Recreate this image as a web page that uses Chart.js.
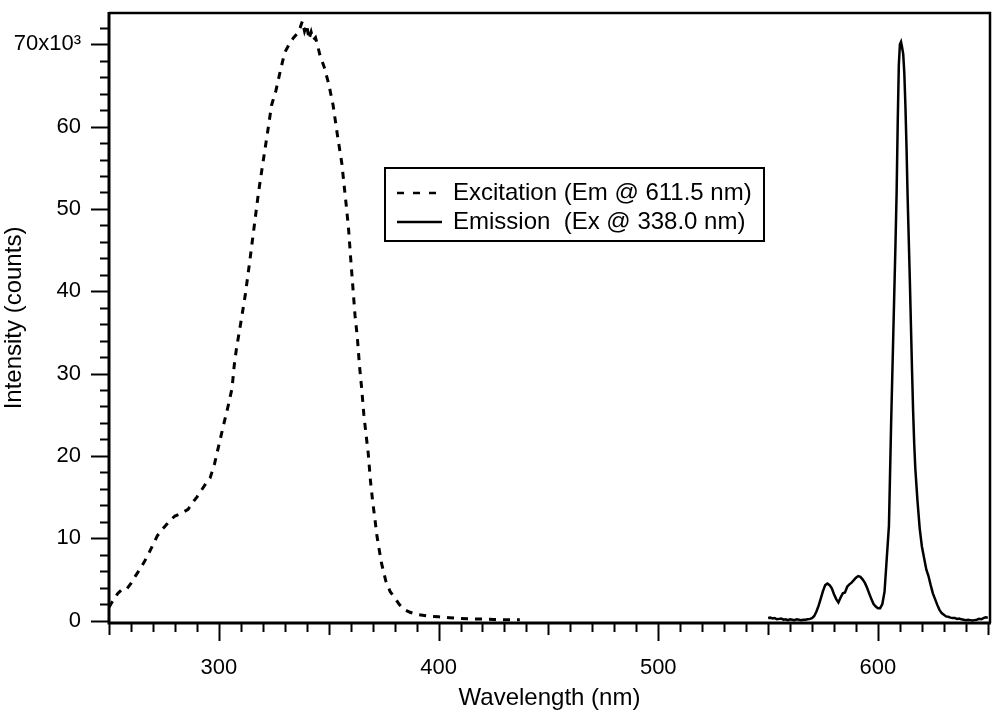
<!DOCTYPE html>
<html>
<head>
<meta charset="utf-8">
<title>Excitation / Emission spectra</title>
<script src="https://cdn.jsdelivr.net/npm/chart.js@4.4.1/dist/chart.umd.min.js"></script>
<style>
  html, body { margin: 0; padding: 0; background: #fff; }
  #wrap { width: 1000px; height: 720px; position: relative; }
</style>
</head>
<body>
<div id="wrap"><canvas id="chart"></canvas></div>
<script>
// Excitation scan (Em @ 611.5 nm)
const excitationNm = [250, 252, 254, 256, 258, 260, 262, 264, 266, 268, 270, 272, 274, 276, 278,
  280, 282, 284, 286, 288, 290, 292, 294, 296, 298, 300, 302, 304, 306, 307, 308, 310, 312, 314,
  316, 318, 320, 322, 324, 326, 328, 330, 332, 334, 336, 337, 338, 339, 340, 341, 342, 343, 344,
  345, 346, 348, 350, 352, 354, 356, 357, 358, 359, 360, 361, 362, 363, 364, 365, 366, 367, 368,
  369, 370, 371, 372, 373, 374, 375, 376, 378, 380, 382, 384, 387, 390, 395, 400, 405, 410, 415,
  420, 425, 430, 437];
const excitationCounts = [1600, 2500, 3300, 3800, 3800, 4500, 5400, 6200, 7100, 8100, 9200, 10300,
  11000, 11600, 12200, 12700, 12900, 13200, 13500, 14300, 15000, 15800, 16600, 17300, 19000,
  21300, 23600, 25800, 28200, 31000, 33000, 36200, 39500, 43500, 47700, 51900, 55500, 59000,
  62600, 64400, 66800, 69000, 70000, 70800, 71400, 72000, 72800, 71600, 72400, 70600, 71500,
  70500, 70800, 69800, 68700, 67200, 65200, 62600, 58900, 55500, 52900, 50400, 47700, 44000,
  40500, 37000, 34500, 31000, 28200, 25000, 22600, 20300, 17000, 14500, 12400, 10200, 8600,
  7000, 5900, 4800, 3500, 2800, 2000, 1400, 1000, 750, 550, 450, 350, 250, 200, 170, 130, 100, 100];

// Emission scan (Ex @ 338.0 nm)
const emissionNm = [550, 551, 552, 553, 554, 555, 556, 557, 558, 559, 560, 561, 562, 563, 564,
  565, 566, 567, 568, 569, 570, 571, 572, 573, 574, 575, 576, 577, 578, 579, 580, 581, 582, 583,
  584, 585, 586, 587, 588, 589, 590, 591, 592, 593, 594, 595, 596, 597, 598, 599, 600, 601, 602,
  603, 604, 605, 606, 607, 608, 608.5, 609, 609.5, 610, 610.5, 611, 611.5, 612, 612.5, 613,
  613.5, 614, 614.5, 615, 615.5, 616, 616.5, 617, 618, 619, 620, 621, 622, 623, 624, 625, 626,
  627, 628, 629, 630, 631, 632, 633, 634, 635, 636, 637, 638, 639, 640, 641, 642, 643, 644, 645,
  646, 647, 648, 649, 650];
const emissionCounts = [300, 350, 250, 300, 150, 200, 250, 100, 150, 50, 150, 100, 50, 150, 100,
  50, 100, 100, 150, 200, 300, 550, 1100, 1800, 2700, 3600, 4300, 4500, 4300, 3900, 3200, 2600,
  2200, 2800, 3300, 3400, 4100, 4400, 4600, 4900, 5200, 5400, 5300, 5000, 4600, 4000, 3300, 2600,
  2000, 1700, 1500, 1500, 2000, 3500, 7500, 11500, 24000, 35000, 46000, 52000, 60500, 67500,
  70000, 70300, 69600, 68800, 66500, 62500, 57500, 51500, 46500, 41500, 36000, 30500, 25500,
  21500, 18500, 14500, 11200, 9000, 7600, 6200, 5400, 4300, 3300, 2600, 1900, 1300, 900, 700,
  500, 450, 350, 300, 300, 200, 250, 150, 100, 50, 100, 50, 0, 50, 100, 200, 150, 300, 400, 350];

const xMajorTicks = [300, 400, 500, 600];
const yMajorTicks = [0, 10000, 20000, 30000, 40000, 50000, 60000, 70000];
const yTopLabel = '70x10\u00B3';

const FONT = "'Liberation Sans', Arial, sans-serif";

function toPoints(xs, ys) {
  return xs.map((x, i) => ({ x: x, y: ys[i] }));
}

// fixed plot box: no extra room for edge labels
function fixBox(scale, w, h) {
  if (w) scale.width = w;
  if (h) scale.height = h;
  scale.paddingTop = 0;
  scale.paddingBottom = 0;
  scale.paddingLeft = 0;
  scale.paddingRight = 0;
}

// axes frame, outward tick marks and the boxed legend
const framePlugin = {
  id: 'framePlugin',
  afterDraw(chart) {
    const { ctx, chartArea: a, scales: { x, y } } = chart;
    ctx.save();
    ctx.strokeStyle = '#000';
    ctx.lineCap = 'butt';

    ctx.lineWidth = 2;
    for (let v = 250; v <= 650; v += 10) {
      const px = Math.round(x.getPixelForValue(v)) + 0.5;
      const len = xMajorTicks.includes(v) ? 18 : (v % 50 === 0 ? 12 : 9);
      ctx.beginPath();
      ctx.moveTo(px, a.bottom);
      ctx.lineTo(px, a.bottom + len);
      ctx.stroke();
    }
    for (let v = 0; v <= 72000; v += 2000) {
      const py = Math.round(y.getPixelForValue(v)) + 0.5;
      const len = yMajorTicks.includes(v) ? 18 : 9;
      ctx.beginPath();
      ctx.moveTo(a.left, py);
      ctx.lineTo(a.left - len, py);
      ctx.stroke();
    }

    // top + right frame
    ctx.lineWidth = 2.5;
    ctx.beginPath();
    ctx.moveTo(a.left, a.top);
    ctx.lineTo(a.right, a.top);
    ctx.lineTo(a.right, a.bottom);
    ctx.stroke();
    // left + bottom axis lines
    ctx.lineWidth = 3;
    ctx.beginPath();
    ctx.moveTo(a.left, a.top - 1);
    ctx.lineTo(a.left, a.bottom);
    ctx.lineTo(a.right + 1, a.bottom);
    ctx.stroke();

    // legend
    const lx = 385, ly = 168, lw = 379, lh = 73;
    ctx.lineWidth = 2;
    ctx.strokeRect(lx, ly, lw, lh);
    ctx.font = '24px ' + FONT;
    ctx.fillStyle = '#000';
    ctx.textBaseline = 'middle';
    chart.data.datasets.forEach((ds, i) => {
      const rowY = ly + 25 + i * 29;
      ctx.save();
      ctx.lineWidth = 2.5;
      ctx.setLineDash(ds.borderDash ? [7, 9] : []);
      ctx.beginPath();
      ctx.moveTo(lx + 12, rowY);
      ctx.lineTo(lx + 57, rowY);
      ctx.stroke();
      ctx.restore();
      ctx.fillText(ds.label, lx + 68, rowY);
    });
    ctx.restore();
  }
};

new Chart(document.getElementById('chart'), {
  type: 'line',
  data: {
    datasets: [
      {
        label: 'Excitation (Em @ 611.5 nm)',
        data: toPoints(excitationNm, excitationCounts),
        borderColor: '#000',
        borderWidth: 3,
        borderDash: [7, 7],
        pointRadius: 0,
        tension: 0
      },
      {
        label: 'Emission  (Ex @ 338.0 nm)',
        data: toPoints(emissionNm, emissionCounts),
        borderColor: '#000',
        borderWidth: 2.5,
        pointRadius: 0,
        tension: 0
      }
    ]
  },
  options: {
    responsive: true,
    maintainAspectRatio: false,
    animation: false,
    events: [],
    layout: { padding: { top: 13, right: 10, left: 0, bottom: 0 } },
    plugins: { legend: { display: false }, tooltip: { enabled: false } },
    scales: {
      x: {
        type: 'linear',
        min: 250,
        max: 651,
        grid: { display: false, drawTicks: false },
        border: { display: false },
        afterBuildTicks: (scale) => {
          scale.ticks = xMajorTicks.map((v) => ({ value: v }));
        },
        ticks: {
          autoSkip: false,
          maxRotation: 0,
          padding: 32,
          color: '#000',
          font: { family: FONT, size: 22 },
          callback: (v) => String(v)
        },
        title: {
          display: true,
          text: 'Wavelength (nm)',
          color: '#000',
          font: { family: FONT, size: 24 },
          padding: { top: 0, bottom: 7 }
        },
        afterFit: (scale) => fixBox(scale, 0, 97)
      },
      y: {
        type: 'linear',
        min: -300,
        max: 73800,
        grid: { display: false, drawTicks: false },
        border: { display: false },
        afterBuildTicks: (scale) => {
          scale.ticks = yMajorTicks.map((v) => ({ value: v }));
        },
        ticks: {
          autoSkip: false,
          padding: 28,
          color: '#000',
          font: { family: FONT, size: 22 },
          callback: (v) => (v === 70000 ? yTopLabel : String(v / 1000))
        },
        title: {
          display: true,
          text: 'Intensity (counts)',
          color: '#000',
          font: { family: FONT, size: 24 },
          padding: { top: 0, bottom: 0 }
        },
        afterFit: (scale) => fixBox(scale, 109, 0)
      }
    }
  },
  plugins: [framePlugin]
});
</script>
</body>
</html>
